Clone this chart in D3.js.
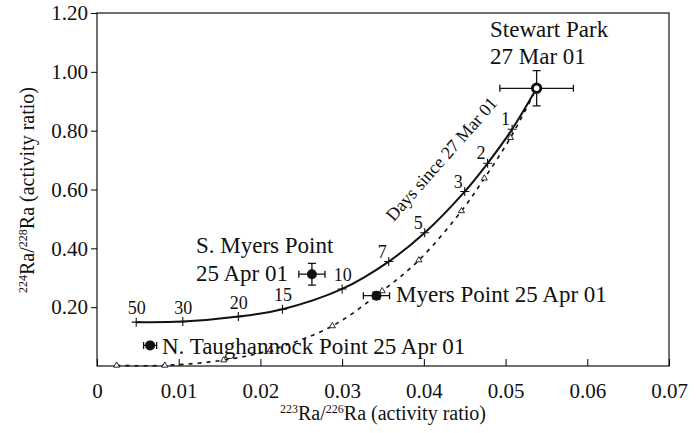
<!DOCTYPE html>
<html>
<head>
<meta charset="utf-8">
<script src="https://cdn.jsdelivr.net/npm/d3@7"></script>
<style>
  body { margin: 0; background: #fff; }
</style>
</head>
<body>
<div id="chart"></div>
<script>
// days since 27 Mar 01 along the two mixing curves
var days = [50, 30, 20, 15, 10, 7, 5, 3, 2, 1];
var solidX = [0.0048, 0.0105, 0.0173, 0.0227, 0.0300, 0.0357, 0.0401, 0.0450, 0.0478, 0.0508];
var solidY = [0.149, 0.151, 0.168, 0.193, 0.262, 0.355, 0.453, 0.593, 0.689, 0.805];
var dashX = [0.0024, 0.0083, 0.0155, 0.0212, 0.0288, 0.0349, 0.0394, 0.0446, 0.0474, 0.0506];
var dashY = [0.002, 0.002, 0.020, 0.054, 0.136, 0.255, 0.360, 0.527, 0.638, 0.776];

// samples
var sampleNames = ["Stewart Park", "S. Myers Point", "Myers Point", "N. Taughannock Point"];
var sampleX = [0.0538, 0.0263, 0.0342, 0.0065];
var sampleY = [0.944, 0.312, 0.239, 0.070];
var sampleXErr = [0.0045, 0.0016, 0.0016, 0.0008];
var sampleYErr = [0.060, 0.037, 0.012, 0];

var xTicks = [0, 0.01, 0.02, 0.03, 0.04, 0.05, 0.06, 0.07];
var yTicks = [0.20, 0.40, 0.60, 0.80, 1.00, 1.20];

var FONT = "Liberation Serif";

function init() {
    var w = 698, h = 433;
    var left = 97, right = 669, top = 13, bottom = 366;

    var svg = d3.select("#chart").append("svg")
        .attr("width", w)
        .attr("height", h)
        .attr("font-family", FONT);

    var x = d3.scaleLinear().domain([0, 0.07]).range([left, right]);
    var y = d3.scaleLinear().domain([0, 1.2]).range([bottom, top]);

    // frame
    svg.append("rect")
        .attr("x", left).attr("y", top)
        .attr("width", right - left).attr("height", bottom - top)
        .attr("fill", "none").attr("stroke", "#111").attr("stroke-width", 1.2);

    var xAxis = d3.axisBottom(x).tickValues(xTicks).tickSizeInner(-7).tickSizeOuter(0)
        .tickPadding(17).tickFormat(function(d) { return d === 0 ? "0" : d3.format(".2f")(d); });
    var gx = svg.append("g").attr("transform", "translate(0," + bottom + ")").call(xAxis)
        .attr("font-family", FONT);
    gx.select(".domain").remove();
    gx.selectAll("text").attr("font-size", 21).attr("fill", "#111").attr("dy", "0.71em");

    var yAxis = d3.axisLeft(y).tickValues(yTicks).tickSizeInner(6).tickSizeOuter(0)
        .tickPadding(3).tickFormat(d3.format(".2f"));
    var gy = svg.append("g").attr("transform", "translate(" + left + ",0)").call(yAxis)
        .attr("font-family", FONT);
    gy.select(".domain").remove();
    gy.selectAll("text").attr("font-size", 21).attr("fill", "#111");

    // axis titles
    var xt = svg.append("text")
        .attr("x", 383).attr("y", 420)
        .attr("text-anchor", "middle")
        .attr("font-size", 20).attr("fill", "#111");
    xt.append("tspan").attr("dy", "-7").attr("font-size", 12).text("223");
    xt.append("tspan").attr("dy", "7").text("Ra/");
    xt.append("tspan").attr("dy", "-7").attr("font-size", 12).text("226");
    xt.append("tspan").attr("dy", "7").text("Ra (activity ratio)");

    var yt = svg.append("text")
        .attr("transform", "translate(34,190) rotate(-90)")
        .attr("text-anchor", "middle")
        .attr("font-size", 20).attr("fill", "#111");
    yt.append("tspan").attr("dy", "-7").attr("font-size", 12).text("224");
    yt.append("tspan").attr("dy", "7").text("Ra/");
    yt.append("tspan").attr("dy", "-7").attr("font-size", 12).text("228");
    yt.append("tspan").attr("dy", "7").text("Ra (activity ratio)");

    var solid = days.map(function(d, i) { return { day: d, x: solidX[i], y: solidY[i] }; });
    var dashed = days.map(function(d, i) { return { day: d, x: dashX[i], y: dashY[i] }; });
    var source = { x: sampleX[0], y: sampleY[0] };

    var line = d3.line()
        .x(function(d) { return x(d.x); })
        .y(function(d) { return y(d.y); })
        .curve(d3.curveCatmullRom.alpha(0.5));

    svg.append("path")
        .datum(dashed.concat([source]))
        .attr("d", line)
        .attr("fill", "none").attr("stroke", "#111")
        .attr("stroke-width", 1.6).attr("stroke-dasharray", "4,5");

    svg.append("path")
        .datum(solid.concat([source]))
        .attr("d", line)
        .attr("fill", "none").attr("stroke", "#111").attr("stroke-width", 2);

    // + markers on solid curve
    var s = 4.5;
    svg.selectAll(".plus").data(solid).enter().append("path")
        .attr("class", "plus")
        .attr("d", function(d) {
            var cx = x(d.x), cy = y(d.y);
            return "M" + (cx - s) + "," + cy + "H" + (cx + s) + "M" + cx + "," + (cy - s) + "V" + (cy + s);
        })
        .attr("stroke", "#111").attr("stroke-width", 1.1);

    // day labels
    svg.selectAll(".daylab").data(solid).enter().append("text")
        .attr("class", "daylab")
        .attr("x", function(d) { return x(d.x) + (d.day >= 10 ? 0.5 : -6.5); })
        .attr("y", function(d) { return y(d.y) + (d.day >= 10 ? -8 : -4); })
        .attr("text-anchor", "middle")
        .attr("font-size", 18).attr("fill", "#111")
        .text(function(d) { return d.day; });

    // triangles on dashed curve
    svg.selectAll(".tri").data(dashed).enter().append("path")
        .attr("class", "tri")
        .attr("transform", function(d) { return "translate(" + x(d.x) + "," + y(d.y) + ")"; })
        .attr("d", d3.symbol().type(d3.symbolTriangle).size(16))
        .attr("fill", "#fff").attr("stroke", "#111").attr("stroke-width", 0.9);

    // samples with error bars
    var samples = sampleNames.map(function(n, i) {
        return { name: n, x: sampleX[i], y: sampleY[i], ex: sampleXErr[i], ey: sampleYErr[i] };
    });
    samples.forEach(function(d, i) {
        var cx = x(d.x), cy = y(d.y);
        var x0 = x(d.x - d.ex), x1 = x(d.x + d.ex);
        var path = "M" + x0 + "," + cy + "H" + x1 +
            "M" + x0 + "," + (cy - 3.5) + "V" + (cy + 3.5) +
            "M" + x1 + "," + (cy - 3.5) + "V" + (cy + 3.5);
        if (d.ey > 0) {
            var y0 = y(d.y + d.ey), y1 = y(d.y - d.ey);
            path += "M" + cx + "," + y0 + "V" + y1 +
                "M" + (cx - 4) + "," + y0 + "H" + (cx + 4) +
                "M" + (cx - 4) + "," + y1 + "H" + (cx + 4);
        }
        svg.append("path").attr("d", path).attr("stroke", "#111").attr("stroke-width", 1.3).attr("fill", "none");
        if (i === 0) {
            svg.append("circle").attr("cx", cx).attr("cy", cy).attr("r", 4.2)
                .attr("fill", "#fff").attr("stroke", "#111").attr("stroke-width", 3);
        } else {
            svg.append("circle").attr("cx", cx).attr("cy", cy).attr("r", 5).attr("fill", "#111");
        }
    });

    // annotations
    function label(tx, ty, str) {
        svg.append("text").attr("x", tx).attr("y", ty)
            .attr("font-size", 23).attr("fill", "#111")
            .text(str);
    }
    label(490, 37, "Stewart Park");
    label(490, 64, "27 Mar 01");
    label(196, 253, "S. Myers Point");
    label(196, 281, "25 Apr 01");
    label(396, 302, "Myers Point 25 Apr 01");
    label(162, 354, "N. Taughannock Point 25 Apr 01");

    svg.append("text")
        .attr("transform", "translate(446,163) rotate(-48.5)")
        .attr("text-anchor", "middle")
        .attr("font-size", 18).attr("fill", "#111")
        .text("Days since 27 Mar 01");
}

// run straight away so text exists before the page finishes loading
init();
</script>
</body>
</html>
